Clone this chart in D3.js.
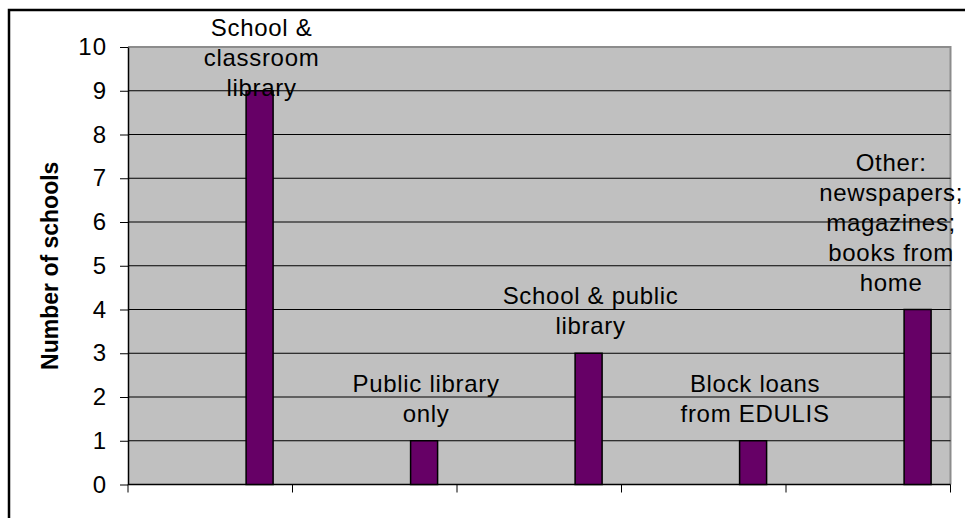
<!doctype html>
<html>
<head>
<style>
  body { margin: 0; background: #fff; }
  svg text { font-family: Arial, "Liberation Sans", sans-serif; fill: #000; }
</style>
<script src="https://d3js.org/d3.v7.min.js"></script>
</head>
<body>
<svg width="965" height="518"></svg>
<script>
// data
const categories = ["School & classroom library", "Public library only", "School & public library", "Block loans from EDULIS", "Other: newspapers; magazines; books from home"];
const labelLines = [["School &", "classroom", "library"], ["Public library", "only"], ["School & public", "library"], ["Block loans", "from EDULIS"], ["Other:", "newspapers;", "magazines;", "books from", "home"]];
const values = [9, 1, 3, 1, 4];
const yTicks = [0, 1, 2, 3, 4, 5, 6, 7, 8, 9, 10];
const yTitle = "Number of schools";

var svg = d3.select("svg");
var plotL = 128, plotR = 950.5, plotT = 47, plotB = 484.5;

// chart area border (runs off the right/bottom edge)
svg.append("rect")
  .attr("x", 9).attr("y", 10)
  .attr("width", 1000).attr("height", 600)
  .attr("fill", "#fff").attr("stroke", "#000").attr("stroke-width", 2.5);

let xScale = d3.scaleBand().domain(categories).range([plotL, plotR]).padding(0);
let yScale = d3.scaleLinear().domain([0, 10]).range([plotB, plotT]);

// plot area
svg.append("rect")
  .attr("x", plotL).attr("y", plotT)
  .attr("width", plotR - plotL).attr("height", plotB - plotT)
  .attr("fill", "#c0c0c0");
svg.append("path")
  .attr("d", "M" + plotL + "," + plotT + "H" + plotR + "V" + plotB)
  .attr("fill", "none").attr("stroke", "#8c8c8c").attr("stroke-width", 2);

// gridlines
svg.append("g").selectAll("line")
  .data(yTicks.filter(d => d > 0 && d < 10))
  .enter().append("line")
  .attr("x1", plotL).attr("x2", plotR)
  .attr("y1", d => yScale(d)).attr("y2", d => yScale(d))
  .attr("stroke", "#000").attr("stroke-width", 1);

// y axis
var yAxis = svg.append("g")
  .attr("transform", "translate(" + plotL + ",0)")
  .call(d3.axisLeft(yScale).tickValues(yTicks).tickSize(8).tickPadding(13).tickSizeOuter(0));
yAxis.select(".domain").attr("stroke", "#000").attr("stroke-width", 1.5);
yAxis.selectAll("text").style("font-size", "24px").style("letter-spacing", "1px").attr("font-family", null);

// x axis: ticks between categories
var xAxis = svg.append("g")
  .attr("transform", "translate(0," + plotB + ")");
xAxis.append("line").attr("x1", plotL).attr("x2", plotR)
  .attr("stroke", "#000").attr("stroke-width", 1.5);
xAxis.selectAll(".tk")
  .data(categories.map(c => xScale(c)).concat([plotR]))
  .enter().append("line")
  .attr("x1", d => d).attr("x2", d => d)
  .attr("y1", 0).attr("y2", 8)
  .attr("stroke", "#000").attr("stroke-width", 1);

// bars
var barW = 27;
var barX = c => xScale(c) + xScale.bandwidth() * 0.8;
svg.selectAll(".bar")
  .data(values)
  .enter().append("rect")
  .attr("class", "bar")
  .attr("x", (d, i) => barX(categories[i]) - barW / 2)
  .attr("y", d => yScale(d))
  .attr("width", barW)
  .attr("height", d => plotB - yScale(d))
  .attr("fill", "#660066")
  .attr("stroke", "#000").attr("stroke-width", 1.5);

// data labels (category names above bars, kept inside the chart area)
var lineH = 30;
values.forEach(function(v, i) {
  var lines = labelLines[i];
  var lastBase = yScale(v) - 19;
  var firstBase = Math.max(36, lastBase - (lines.length - 1) * lineH);
  var cx = barX(categories[i]) + 2;
  var t = svg.append("text")
    .attr("text-anchor", "middle")
    .style("font-size", "24px")
    .style("letter-spacing", "0.7px");
  lines.forEach(function(s, k) {
    t.append("tspan").attr("x", cx).attr("y", firstBase + k * lineH).text(s);
  });
  var bb = t.node().getBBox();
  var over = bb.x + bb.width - 963;
  if (over > 0) t.selectAll("tspan").attr("x", cx - over);
});

// y title
svg.append("text")
  .attr("transform", "translate(58," + ((plotT + plotB) / 2) + ") rotate(-90)")
  .attr("text-anchor", "middle")
  .style("font-size", "23px").style("font-weight", "bold")
  .text(yTitle);
</script>
</body>
</html>
